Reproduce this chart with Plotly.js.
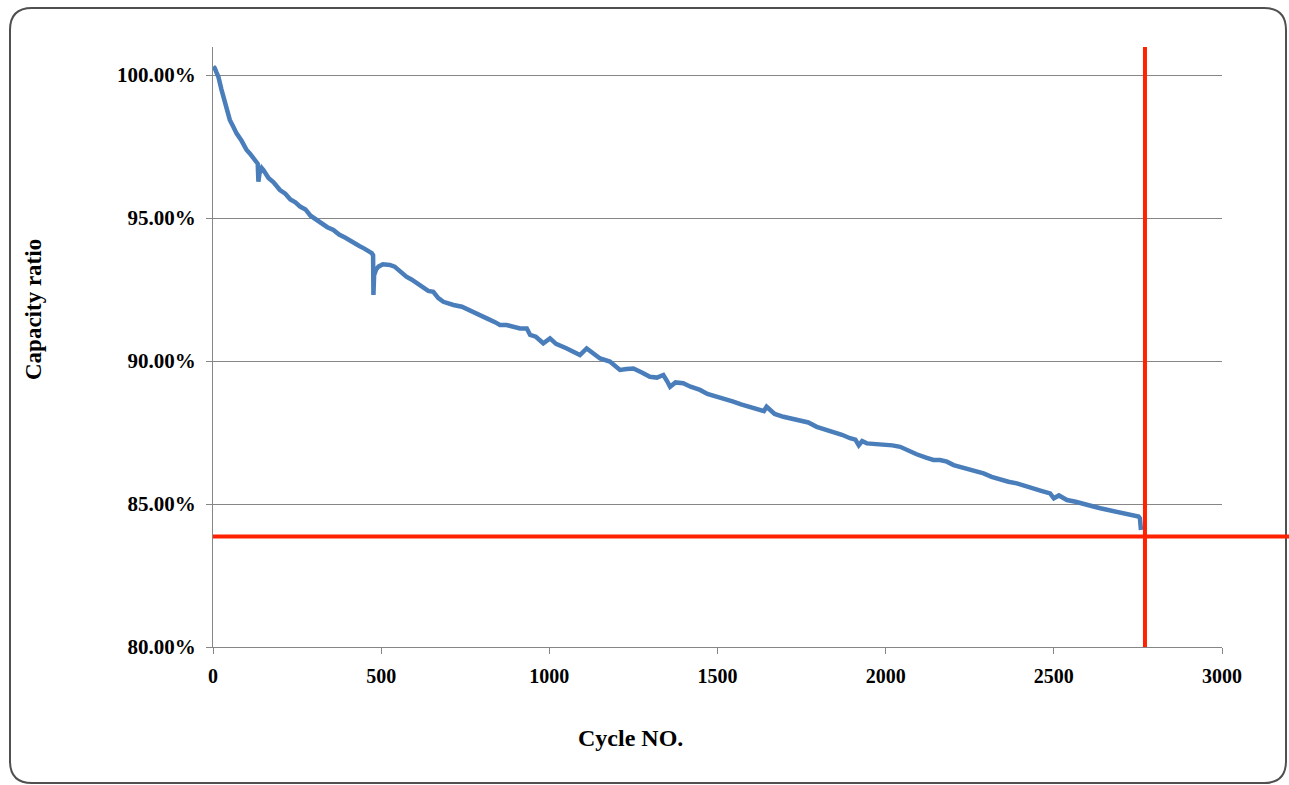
<!DOCTYPE html>
<html>
<head>
<meta charset="utf-8">
<script src="https://cdn.plot.ly/plotly-3.0.1.min.js"></script>
<style>
  html, body { margin: 0; padding: 0; background: #ffffff; }
  #chart { width: 1289px; height: 785px; }
</style>
</head>
<body>
<div id="chart"></div>
<script>
// ---- data ----
const cycles = [1, 5, 10, 16, 25, 35, 50, 60, 70, 85, 100, 110, 120, 130, 133, 135, 138, 145, 150, 165,
  180, 199, 215, 230, 245, 259, 275, 290, 308, 325, 340, 358, 375, 395, 417, 435, 450, 465, 472, 476,
  477, 479, 485, 492, 505, 526, 540, 556, 575, 590, 606, 620, 640, 655, 670, 685, 700, 715, 740, 764,
  790, 814, 840, 853, 873, 900, 913, 933, 943, 960, 982, 1002, 1020, 1052, 1070, 1091, 1111, 1130, 1151, 1180,
  1195, 1210, 1230, 1250, 1275, 1299, 1320, 1339, 1350, 1359, 1375, 1398, 1420, 1448, 1470, 1498, 1520, 1547, 1570, 1597,
  1620, 1638, 1646, 1670, 1696, 1720, 1745, 1770, 1795, 1820, 1845, 1870, 1894, 1910, 1920, 1930, 1944, 1970, 1993, 2020,
  2043, 2070, 2092, 2120, 2142, 2162, 2182, 2202, 2220, 2241, 2265, 2291, 2315, 2341, 2365, 2390, 2415, 2440, 2465, 2489,
  2500, 2515, 2539, 2565, 2589, 2615, 2638, 2665, 2688, 2715, 2737, 2752, 2756, 2759];
const capacity = [100.30, 100.25, 100.10, 99.94, 99.50, 99.05, 98.43, 98.20, 97.96, 97.70, 97.38, 97.25, 97.10, 96.97, 96.90, 96.27, 96.55, 96.75, 96.68, 96.40,
  96.25, 95.98, 95.85, 95.65, 95.55, 95.40, 95.30, 95.08, 94.93, 94.80, 94.68, 94.58, 94.42, 94.30, 94.12, 94.02, 93.93, 93.85, 93.77, 93.70,
  92.31, 93.00, 93.20, 93.30, 93.38, 93.36, 93.30, 93.12, 92.95, 92.85, 92.72, 92.60, 92.45, 92.42, 92.20, 92.07, 92.00, 91.96, 91.90, 91.78,
  91.62, 91.49, 91.35, 91.26, 91.26, 91.20, 91.14, 91.14, 90.91, 90.85, 90.62, 90.79, 90.60, 90.44, 90.35, 90.21, 90.44, 90.25, 90.09, 89.98,
  89.85, 89.69, 89.72, 89.74, 89.60, 89.45, 89.42, 89.51, 89.30, 89.10, 89.25, 89.22, 89.10, 88.99, 88.85, 88.76, 88.70, 88.58, 88.48, 88.40,
  88.32, 88.25, 88.40, 88.15, 88.05, 87.98, 87.94, 87.85, 87.70, 87.62, 87.53, 87.42, 87.30, 87.25, 87.05, 87.20, 87.12, 87.10, 87.06, 87.05,
  87.00, 86.85, 86.74, 86.62, 86.54, 86.54, 86.48, 86.36, 86.30, 86.25, 86.15, 86.07, 85.95, 85.84, 85.78, 85.72, 85.62, 85.55, 85.45, 85.37,
  85.20, 85.30, 85.14, 85.08, 85.02, 84.92, 84.85, 84.78, 84.73, 84.68, 84.62, 84.56, 84.50, 84.09];
const cutoffCycle = 2771;      // red vertical marker
const cutoffCapacity = 83.86;  // red horizontal marker
const xTickVals = [0, 500, 1000, 1500, 2000, 2500, 3000];
const yTickVals = [80, 85, 90, 95, 100];
const yTickText = ['80.00%', '85.00%', '90.00%', '95.00%', '100.00%'];
const xTitle = 'Cycle NO.';
const yTitle = 'Capacity ratio';

// ---- layout helpers ----
const W = 1289, H = 785;
const M = { l: 213, r: 67, t: 47, b: 138 };
const PW = W - M.l - M.r, PH = H - M.t - M.b;
const Y_MIN = 80, Y_MAX = 100.98;
const px2x = p => (p - M.l) / PW;
const px2y = p => (H - M.b - p) / PH;

function roundRectPath(x0, y0, x1, y1, r) {
  const X = px2x, Y = px2y;
  return `M ${X(x0 + r)},${Y(y0)} L ${X(x1 - r)},${Y(y0)} Q ${X(x1)},${Y(y0)} ${X(x1)},${Y(y0 + r)} ` +
         `L ${X(x1)},${Y(y1 - r)} Q ${X(x1)},${Y(y1)} ${X(x1 - r)},${Y(y1)} ` +
         `L ${X(x0 + r)},${Y(y1)} Q ${X(x0)},${Y(y1)} ${X(x0)},${Y(y1 - r)} ` +
         `L ${X(x0)},${Y(y0 + r)} Q ${X(x0)},${Y(y0)} ${X(x0 + r)},${Y(y0)} Z`;
}

const serif = 'Liberation Serif, Times New Roman, serif';
const axisGray = '#868686';
const red = '#ff2100';

const trace = {
  x: cycles, y: capacity, type: 'scatter', mode: 'lines',
  line: { color: '#4a7ebb', width: 4.5 }, hoverinfo: 'x+y', showlegend: false
};

const layout = {
  width: W, height: H,
  margin: M,
  paper_bgcolor: '#ffffff', plot_bgcolor: '#ffffff',
  font: { family: serif, color: '#000000' },
  xaxis: {
    range: [0, 3000], tickvals: xTickVals, ticktext: xTickVals.map(String),
    showgrid: false, zeroline: false, showline: true, linecolor: axisGray, linewidth: 1,
    ticks: 'outside', ticklen: 6, tickcolor: axisGray, tickwidth: 1,
    tickfont: { family: serif, size: 20, color: '#000', weight: 'bold' },
    ticklabelstandoff: 5, fixedrange: true
  },
  yaxis: {
    range: [Y_MIN, Y_MAX], tickvals: yTickVals, ticktext: yTickText,
    showgrid: true, gridcolor: axisGray, gridwidth: 1,
    zeroline: false, showline: true, linecolor: axisGray, linewidth: 1,
    ticks: 'outside', ticklen: 6, tickcolor: axisGray, tickwidth: 1,
    tickfont: { family: serif, size: 21, color: '#000', weight: 'bold' },
    ticklabelstandoff: 6, fixedrange: true
  },
  shapes: [
    { type: 'path', xref: 'paper', yref: 'paper', path: roundRectPath(10, 8, 1286, 783, 22),
      line: { color: '#505050', width: 2 }, fillcolor: 'rgba(0,0,0,0)', layer: 'below' },
    { type: 'line', xref: 'x', yref: 'paper', x0: cutoffCycle, x1: cutoffCycle, y0: 0, y1: 1,
      line: { color: red, width: 4 }, layer: 'above' },
    { type: 'line', xref: 'paper', yref: 'paper', x0: 0, x1: px2x(W),
      y0: (cutoffCapacity - Y_MIN) / (Y_MAX - Y_MIN), y1: (cutoffCapacity - Y_MIN) / (Y_MAX - Y_MIN),
      line: { color: red, width: 4 }, layer: 'above' }
  ],
  annotations: [
    { text: xTitle, xref: 'paper', yref: 'paper', x: px2x(630), y: px2y(738),
      xanchor: 'center', yanchor: 'middle',
      showarrow: false, font: { family: serif, size: 24, color: '#000', weight: 'bold' } },
    { text: yTitle, xref: 'paper', yref: 'paper', x: px2x(33), y: px2y(310), textangle: -90,
      xanchor: 'center', yanchor: 'middle',
      showarrow: false, font: { family: serif, size: 23, color: '#000', weight: 'bold' } }
  ]
};

Plotly.newPlot('chart', [trace], layout, { displayModeBar: false, staticPlot: true });
</script>
</body>
</html>
